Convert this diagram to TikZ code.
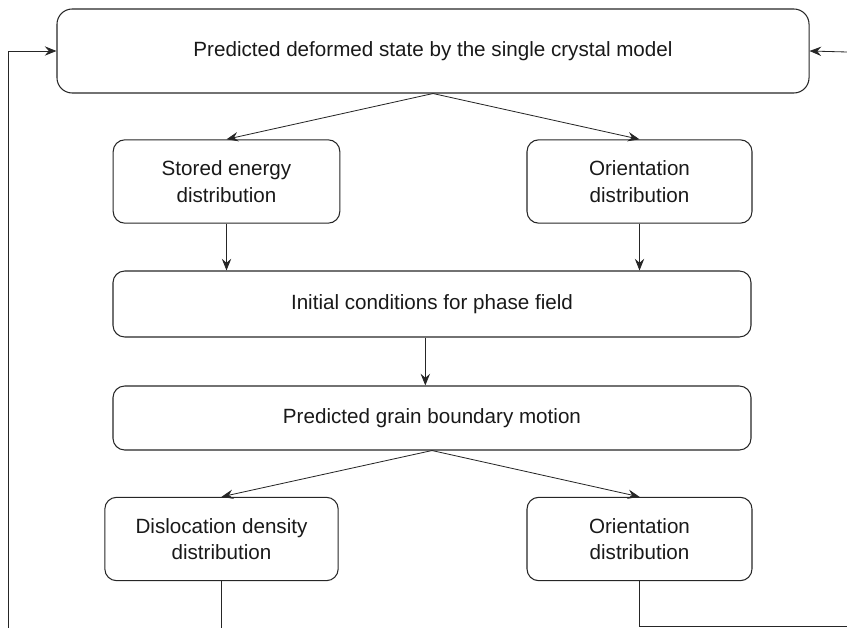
\documentclass[tikz,border=0pt]{standalone}
\usepackage{fontspec}
\setmainfont{Liberation Sans}
\usetikzlibrary{arrows.meta}
\usetikzlibrary{positioning,calc}
\tikzstyle{block}=[rectangle,draw=black!85,line width=0.9pt,rounded corners=10pt,align=center,inner sep=0pt,text=black!90,font=\fontsize{17.6}{22.5}\selectfont]
\tikzstyle{wideblock}=[block,minimum width=19.14cm]
\tikzstyle{smallblock}=[block,minimum width=6.8cm,minimum height=2.5cm]
\tikzstyle{edge}=[draw,black!85,line width=0.7pt,-{Stealth[length=10pt,width=8pt,inset=3.5pt]}]
\tikzstyle{line}=[draw,black!85,line width=0.7pt]

\begin{document}
\begin{tikzpicture}[x=0.03cm,y=-0.03cm]
   \useasboundingbox (0,0) rectangle (847,628);

   \node[block,minimum width=22.56cm,minimum height=2.52cm,rounded corners=13pt] (model) at (433,51) {Predicted deformed state by the single crystal model};

   \node[smallblock] (energy) at (226.5,181.5) {Stored energy\\distribution};
   \node[smallblock,minimum width=6.75cm] (orient) at (639.5,181.5) {Orientation\\distribution};

   \node[wideblock,minimum height=1.98cm] (initial) at (432,304) {Initial conditions for phase field};
   \node[wideblock,minimum height=1.92cm] (motion) at (432,418) {Predicted grain boundary motion};

   \node[smallblock,minimum width=7cm] (disloc) at (221.5,539) {Dislocation density\\distribution};
   \node[smallblock,minimum width=6.75cm] (reorient) at (639.5,539) {Orientation\\distribution};

   % loop back ends, cut off by the frame
   \coordinate (backL) at (8,628);
   \coordinate (backR) at (847,52);
   \coordinate (outR) at (847,626);

   \foreach \source/\dest in {model/energy, model/orient, motion/disloc, motion/reorient}
        \path[edge] (\source.south) -- (\dest.north);

   \foreach \source in {energy, orient}
        \path[edge] (\source.south) -- (\source.south |- initial.north);

   \path[edge] ([xshift=-0.2cm]initial.south) -- ([xshift=-0.2cm]motion.north);

   \path[edge] (backL) |- (model.west);
   \path[edge] (backR) -- (model.east);
   \path[line] (disloc.south) -- (disloc.south |- backL);
   \path[line] (reorient.south) |- (outR);

\end{tikzpicture}
\end{document}
